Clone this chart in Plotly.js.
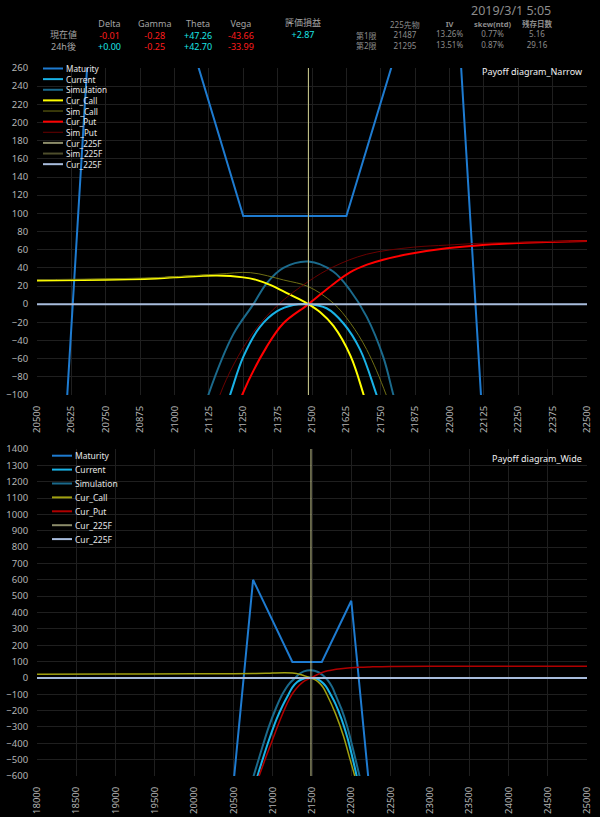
<!DOCTYPE html>
<html>
<head>
<meta charset="utf-8">
<script src="https://cdn.plot.ly/plotly-3.0.1.min.js"></script>
<style>
  html, body { margin: 0; padding: 0; background: #000; }
  #payoff { width: 600px; height: 817px; }
</style>
</head>
<body>
<div id="payoff"></div>
<script>
// --- header table ---
const greekHeaders = ["Delta", "Gamma", "Theta", "Vega", "評価損益"];
const rowLabels = ["現在値", "24h後"];
const greeksNow = ["-0.01", "-0.28", "+47.26", "-43.66", "+2.87"];
const greeks24h = ["+0.00", "-0.25", "+42.70", "-33.99"];
const dateLabel = "2019/3/1 5:05";
const futHeaders = ["225先物", "IV", "skew(ntd)", "残存日数"];
const monthLabels = ["第1限", "第2限"];
const month1 = ["21487", "13.26%", "0.77%", "5.16"];
const month2 = ["21295", "13.51%", "0.87%", "29.16"];

// --- payoff curves (x = 225 futures price, y = P&L) ---
const FUT_PRICE = 21487;

const maturityX = [20400, 20750, 21250, 21625, 22000, 22300];
const maturityY = [-1150, 600, 97, 97, 472, -1028];

const currentX = [20700, 20800, 20868, 20950, 21050, 21125, 21202, 21250, 21311, 21372, 21432, 21487, 21553, 21614, 21675, 21735, 21800, 21875, 21950, 22023, 22100, 22180];
const currentY = [-780, -610, -504, -383, -251, -170, -100, -58, -25, -8, -1, 0, -4.5, -21, -50, -100, -160, -251, -365, -504, -672, -880];

const simX = [20700, 20826, 20950, 21050, 21123, 21214, 21287, 21335, 21396, 21487, 21577, 21638, 21699, 21759, 21796, 21875, 21950, 22057, 22150];
const simY = [-690, -490, -300, -175, -100, -33, 0, 23, 40, 47, 36, 15.6, -14, -58, -100, -190, -300, -504, -690];

const callX = [18000, 19000, 20000, 20500, 20750, 20912, 21000, 21155, 21250, 21300, 21350, 21400, 21450, 21487, 21530, 21578, 21640, 21688, 21800, 21900, 21985, 22050, 22150];
const callY = [23, 24, 25, 26, 27, 28, 29.5, 31.5, 29.5, 26.5, 21, 13.5, 6, 0, -9, -24, -57, -100, -220, -355, -500, -610, -800];

const simCallX = [20500, 20912, 21155, 21276, 21397, 21487, 21578, 21640, 21699, 21770, 21850, 21950];
const simCallY = [27, 29, 33, 34.7, 26.6, 19.3, 1, -21, -50, -100, -175, -290];

const putX = [20700, 20800, 20899, 21000, 21100, 21180, 21246, 21335, 21396, 21487, 21577, 21638, 21700, 21759, 21868, 21990, 22111, 22232, 22353, 22500, 23000, 25000];
const putY = [-770, -635, -504, -375, -250, -160, -100, -47, -21, 0, 22, 35, 43.5, 49, 56, 61.5, 65, 67, 68.5, 69.6, 71, 71.5];

const simPutX = [20900, 21000, 21100, 21165, 21275, 21372, 21487, 21577, 21699, 21868, 21990, 22111, 22300, 22500];
const simPutY = [-450, -320, -180, -100, -36, -2, 25, 41, 55, 62.7, 65, 67, 68.5, 69.5];

const futLineX = [FUT_PRICE, FUT_PRICE];
const futLineY = [-2000, 3000];
const zeroLineX = [18000, 25000];
const zeroLineY = [0, 0];

// --- page geometry ---
const W = 600, H = 817;
const M = { l: 37, r: 13, t: 68, b: 41 };
const pxX = (px) => (px - M.l) / (W - M.l - M.r);
const pxY = (py) => (H - M.b - py) / (H - M.t - M.b);

const FONT = "'Noto Sans', 'Noto Sans CJK JP', sans-serif";
const RED = "#ff1c1c";
const CYAN = "#1ae4e4";
const GRAY = "#a4a4a4";
const DIM = "#8c8c8c";

const COLORS = {
  maturity: "#1e7bd0",
  current: "#19b2e6",
  sim: "#1b6a8c",
  call: "#ffff00",
  callWide: "#a0a010",
  simCall: "#6e6e14",
  put: "#ff0000",
  putWide: "#b00000",
  simPut: "#6a0000",
  fut: "#c8c890",
  simFut: "#55552a",
  zero: "#a8bcdc",
};

function line(x, y, color, width, xa, ya, smooth) {
  return {
    type: "scatter", mode: "lines", x: x, y: y,
    xaxis: xa, yaxis: ya,
    line: { color: color, width: width, shape: smooth ? "spline" : "linear", smoothing: 1 },
    hoverinfo: "skip", showlegend: false,
  };
}

const traces = [
  // narrow
  line(maturityX, maturityY, COLORS.maturity, 2, "x", "y"),
  line(currentX, currentY, COLORS.current, 2, "x", "y", true),
  line(simX, simY, COLORS.sim, 2, "x", "y", true),
  line(callX, callY, COLORS.call, 2, "x", "y", true),
  line(simCallX, simCallY, COLORS.simCall, 1, "x", "y", true),
  line(putX, putY, COLORS.put, 2, "x", "y", true),
  line(simPutX, simPutY, COLORS.simPut, 1, "x", "y", true),
  line(futLineX, futLineY, COLORS.simFut, 1, "x", "y"),
  line(futLineX, futLineY, COLORS.fut, 1, "x", "y"),
  line(zeroLineX, zeroLineY, COLORS.zero, 2, "x", "y"),
  // wide
  line(maturityX, maturityY, COLORS.maturity, 2, "x2", "y2"),
  line(currentX, currentY, COLORS.current, 2, "x2", "y2", true),
  line(simX, simY, COLORS.sim, 2, "x2", "y2", true),
  line(callX, callY, COLORS.callWide, 1.5, "x2", "y2", true),
  line(putX, putY, COLORS.putWide, 1.5, "x2", "y2", true),
  line(futLineX, futLineY, COLORS.fut, 1, "x2", "y2"),
  line(zeroLineX, zeroLineY, COLORS.zero, 2, "x2", "y2"),
];

const annotations = [];
const shapes = [];

function text(px, py, str, color, size, opts) {
  annotations.push(Object.assign({
    xref: "paper", yref: "paper", x: pxX(px), y: pxY(py),
    xanchor: "center", yanchor: "middle", showarrow: false, borderpad: 0,
    text: str, font: { family: FONT, size: size, color: color },
  }, opts || {}));
}

// --- compact legends drawn by hand (plotly legend rows are too tall) ---
function addLegendSamples(items, top, step, x0, x1) {
  items.forEach((it, i) => {
    const py = top + step * i;
    shapes.push({
      type: "line", xref: "paper", yref: "paper",
      x0: pxX(x0), x1: pxX(x1), y0: pxY(py), y1: pxY(py),
      line: { color: it[1], width: it[2] },
    });
  });
}

const narrowLegend = [
  ["Maturity", COLORS.maturity, 2],
  ["Current", COLORS.current, 2],
  ["Simulation", COLORS.sim, 2],
  ["Cur_Call", COLORS.call, 2],
  ["Sim_Call", COLORS.simCall, 1],
  ["Cur_Put", COLORS.put, 2],
  ["Sim_Put", COLORS.simPut, 1],
  ["Cur_225F", "#8c8c6a", 2],
  ["Sim_225F", "#4e4e2c", 2],
  ["Cur_225F", COLORS.zero, 2],
];
addLegendSamples(narrowLegend, 68.5, 10.63, 43, 63);
text(65, 68.5 + 10.63 * 4.5 + 0.5, narrowLegend.map((d) => d[0]).join("<br>"), "#e6e6e6", 8.2,
  { xanchor: "left", align: "left" });

const wideLegend = [
  ["Maturity", COLORS.maturity, 2],
  ["Current", COLORS.current, 2],
  ["Simulation", COLORS.sim, 2],
  ["Cur_Call", COLORS.callWide, 2],
  ["Cur_Put", COLORS.putWide, 2],
  ["Cur_225F", "#8c8c6a", 2],
  ["Cur_225F", COLORS.zero, 2],
];
addLegendSamples(wideLegend, 455.7, 13.9, 52, 72);
wideLegend.forEach((d, i) => text(74, 455.7 + 13.9 * i, d[0], "#e6e6e6", 8.5, { xanchor: "left" }));

text(583, 72, "Payoff diagram_Narrow", "#f0f0f0", 9, { xanchor: "right" });
text(583, 459, "Payoff diagram_Wide", "#f0f0f0", 9, { xanchor: "right" });

// --- header: greeks (one multi-line text per column) ---
const greekCols = [109, 154, 198, 241, 303];
const span = (v, c) => "<span style=\"color:" + c + "\">" + v + "</span>";
const signColor = (v) => (v.startsWith("-") ? RED : CYAN);
greekHeaders.forEach((h, i) => {
  const rows = [span(h, GRAY), span(greeksNow[i], signColor(greeksNow[i]))];
  if (greeks24h[i] !== undefined) rows.push(span(greeks24h[i], signColor(greeks24h[i])));
  const cy = rows.length === 3 ? 34.5 : 29;
  text(greekCols[i], cy, rows.join("<br>"), GRAY, 9);
});
text(63, 40, rowLabels.join("<br>"), GRAY, 9);

// --- header: futures ---
const futCols = [405, 449, 493, 537];
text(511, 11, dateLabel, DIM, 12.5);
futHeaders.forEach((h, i) => {
  const head = i === 0 ? h : "<b><span style=\"font-size:7.5px\">" + h + "</span></b>";
  text(futCols[i], 35, [head, month1[i], month2[i]].join("<br>"), DIM, 8);
});
text(366, 40, monthLabels.join("<br>"), DIM, 8);

const axisBase = {
  showgrid: true,
  gridcolor: "#1f1f1f",
  gridwidth: 1,
  zeroline: false,
  showline: false,
  ticks: "outside",
  ticklen: 6,
  tickcolor: "rgba(0,0,0,0)",
  tickformat: "d",
  tickfont: { family: FONT, size: 9.5, color: "#b4b4b4" },
  fixedrange: true,
};

const layout = {
  width: W,
  height: H,
  margin: M,
  paper_bgcolor: "#000",
  plot_bgcolor: "#000",
  showlegend: false,
  hovermode: false,
  xaxis: { ...axisBase, anchor: "y", range: [20500, 22500], tick0: 20500, dtick: 125, tickangle: -90 },
  yaxis: { ...axisBase, anchor: "x", domain: [1 - 327 / 708, 1], range: [-100, 260], dtick: 20 },
  xaxis2: { ...axisBase, anchor: "y2", range: [18000, 25000], tick0: 18000, dtick: 500, tickangle: -90 },
  yaxis2: { ...axisBase, anchor: "x2", domain: [0, 327 / 708], range: [-600, 1400], dtick: 100 },
  annotations: annotations,
  shapes: shapes,
};

Plotly.newPlot("payoff", traces, layout, { displayModeBar: false, staticPlot: true });
</script>
</body>
</html>
